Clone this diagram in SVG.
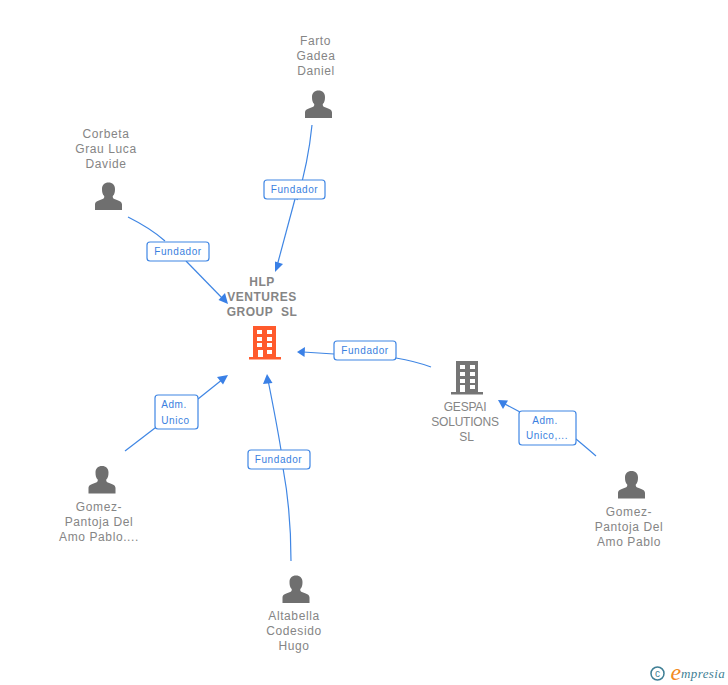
<svg xmlns="http://www.w3.org/2000/svg" xmlns:xlink="http://www.w3.org/1999/xlink" width="728" height="685" viewBox="0 0 728 685">
<style>
text{font-family:"Liberation Sans",Arial,sans-serif}
.n{font-size:12px;fill:#858585;text-anchor:middle;letter-spacing:.6px}
.u{font-size:12px;fill:#858585;text-anchor:middle;letter-spacing:-.2px}
.b{font-size:12px;font-weight:bold;fill:#858585;text-anchor:middle;letter-spacing:.5px}
.l{font-size:10px;fill:#3a7fe0;text-anchor:middle;letter-spacing:.6px}
.c{fill:none;stroke:#3f86e4;stroke-width:1.2}
.h{fill:#3a80e6}
.box{fill:#fff;stroke:#3f86e4;stroke-width:1.2}
</style>
<defs>
<path id="p" fill="#6f6f6f" d="M-13.500 14V8.500C-13.500 5.500-10 4.500-6.500 3.300C-4.500 2.500-4 1.500-4.300 0C-6 -1.500-6.500 -4-6.500 -7C-6.500 -11-4 -13.500 0 -13.500C4 -13.500 6.500 -11 6.500 -7C6.500 -4 6 -1.500 4.300 0C4 1.500 4.500 2.500 6.500 3.300C10 4.500 13.500 5.500 13.500 8.500V14Z"/>
</defs>
<rect width="728" height="685" fill="#fff"/>
<g id="connectors">
<path class="c" d="M312 125C309 155 303 180 297 200"/>
<path class="c" d="M295 199L277 266"/>
<path class="h" d="M275 272L275 261.500L283 264Z"/>
<path class="c" d="M128 217C142 224 155 232 165 241"/>
<path class="c" d="M186 261L224 300"/>
<path class="h" d="M228 304L218.500 300L225 293Z"/>
<path class="c" d="M125 451L155 428"/>
<path class="c" d="M198 399L223 379"/>
<path class="h" d="M228 375L223 384.500L217 377Z"/>
<path class="c" d="M291 561C291 530 288 495 283 468"/>
<path class="c" d="M281 450C277 425 272 400 268 380"/>
<path class="h" d="M267 374L272.500 383L263 384Z"/>
<path class="c" d="M431 367C420 363 408 360 396 358"/>
<path class="c" d="M334 354L303 352"/>
<path class="h" d="M297 352L305 347L304.500 357Z"/>
<path class="c" d="M596 456C588 449 582 444 576 439"/>
<path class="c" d="M520 412L503 403"/>
<path class="h" d="M498 400L508 400.500L503 409Z"/>
</g>
<g id="label-farto"><rect class="box" x="264" y="180" width="61" height="19" rx="3"/><text class="l" x="294.500" y="193">Fundador</text></g>
<g id="label-corbeta"><rect class="box" x="147" y="242" width="62" height="19" rx="3"/><text class="l" x="178" y="255">Fundador</text></g>
<g id="label-gomez1"><rect class="box" x="155" y="395" width="43" height="34" rx="3"/><text class="l" x="174" y="408">Adm.</text><text class="l" x="175.500" y="424">Unico</text></g>
<g id="label-altabella"><rect class="box" x="248" y="450" width="62" height="19" rx="3"/><text class="l" x="278.500" y="463">Fundador</text></g>
<g id="label-gespai"><rect class="box" x="334" y="341" width="62" height="19" rx="3"/><text class="l" x="365" y="354">Fundador</text></g>
<g id="label-gomez2"><rect class="box" x="519" y="411" width="57" height="34" rx="3"/><text class="l" x="545" y="424">Adm.</text><text class="l" x="547" y="439">Unico,...</text></g>
<g id="node-hlp">
<text class="b" x="262" y="286">HLP</text><text class="b" x="262" y="301">VENTURES</text><text class="b" x="262" y="316">GROUP&#160;&#160;SL</text>
<path fill="#ff5a2c" d="M253 326H276V357H281V359.500H249V357H253Z"/>
<g fill="#fff"><rect x="257" y="330" width="5" height="4"/><rect x="267" y="330" width="5" height="4"/><rect x="257" y="337" width="5" height="4"/><rect x="267" y="337" width="5" height="4"/><rect x="257" y="343" width="5" height="4"/><rect x="267" y="343" width="5" height="4"/><rect x="258" y="350" width="5" height="7"/><rect x="267" y="350" width="5" height="4"/></g>
</g>
<g id="node-gespai">
<path fill="#757575" d="M456 361H478V392H483V394.500H451V392H456Z"/>
<g fill="#fff"><rect x="460" y="365" width="5" height="4"/><rect x="470" y="365" width="5" height="4"/><rect x="460" y="372" width="5" height="4"/><rect x="470" y="372" width="5" height="4"/><rect x="460" y="379" width="5" height="4"/><rect x="470" y="379" width="5" height="4"/><rect x="460" y="385" width="5" height="7"/><rect x="470" y="385" width="5" height="4"/></g>
<text class="u" x="465" y="411">GESPAI</text><text class="u" x="465" y="426">SOLUTIONS</text><text class="u" x="466.500" y="441">SL</text>
</g>
<g id="node-farto"><text class="n" x="315.500" y="45">Farto</text><text class="n" x="316" y="60">Gadea</text><text class="n" x="316" y="75">Daniel</text><use xlink:href="#p" x="318.500" y="104"/></g>
<g id="node-corbeta"><text class="n" x="106" y="138">Corbeta</text><text class="n" x="106" y="153">Grau Luca</text><text class="n" x="106" y="168">Davide</text><use xlink:href="#p" x="108.500" y="196"/></g>
<g id="node-gomez1"><use xlink:href="#p" x="102" y="479.500"/><text class="n" x="99" y="511">Gomez-</text><text class="n" x="99" y="526">Pantoja Del</text><text class="n" x="99" y="541">Amo Pablo....</text></g>
<g id="node-altabella"><use xlink:href="#p" x="296" y="589"/><text class="n" x="294" y="620">Altabella</text><text class="n" x="294" y="635">Codesido</text><text class="n" x="294" y="650">Hugo</text></g>
<g id="node-gomez2"><use xlink:href="#p" x="631.500" y="484.500"/><text class="n" x="629" y="516">Gomez-</text><text class="n" x="629" y="531">Pantoja Del</text><text class="n" x="629" y="546">Amo Pablo</text></g>
<g id="logo">
<circle cx="657.500" cy="673.500" r="6.500" fill="none" stroke="#3f7f95" stroke-width="1.500"/>
<text x="657.500" y="677" font-size="10" fill="#3f7f95" text-anchor="middle">c</text>
<text x="670.500" y="680" font-size="24" font-style="italic" fill="#f28a1e" style="font-family:'Liberation Serif',serif">e</text>
<text x="681" y="678" font-size="13" font-style="italic" fill="#3f7f95" letter-spacing=".4" style="font-family:'Liberation Serif',serif">mpresia</text>
</g>
</svg>
